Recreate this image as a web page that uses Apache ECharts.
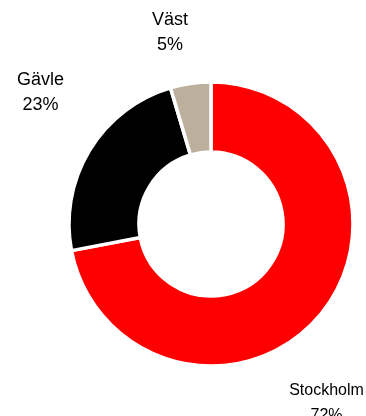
<!DOCTYPE html>
<html><head><meta charset="utf-8">
<script src="https://cdn.jsdelivr.net/npm/echarts@6/dist/echarts.min.js"></script>
<style>html,body{margin:0;padding:0;background:#fff}#c{width:366px;height:416px}</style>
</head><body><div id="c"></div>
<script>
const categories = ['Stockholm', 'Gävle', 'Väst'];
const values = [72.0, 23.4, 4.6];
const colors = ['#FF0000', '#000000', '#BCB09D'];
const labelPos = [[326.5, 403], [40.5, 92.5], [170, 32.5]];
const labelSize = [16, 18, 18];

const total = values.reduce((a, b) => a + b, 0);
const chart = echarts.init(document.getElementById('c'), null, {renderer: 'canvas'});
chart.setOption({
  animation: false,
  series: [{
    type: 'pie',
    center: [211, 224],
    radius: [72, 142],
    startAngle: 90,
    clockwise: true,
    itemStyle: {borderColor: '#ffffff', borderWidth: 3.5},
    label: {show: false},
    labelLine: {show: false},
    data: categories.map((c, i) => ({name: c, value: values[i], itemStyle: {color: colors[i]}}))
  }],
  graphic: categories.map((c, i) => ({
    type: 'text',
    x: labelPos[i][0],
    y: labelPos[i][1],
    style: {
      text: c + '\n' + Math.round(values[i] / total * 100) + '%',
      font: labelSize[i] + 'px "Liberation Sans", Arial, sans-serif',
      lineHeight: 25,
      fill: '#000',
      align: 'center',
      verticalAlign: 'middle'
    }
  }))
});
</script></body></html>
